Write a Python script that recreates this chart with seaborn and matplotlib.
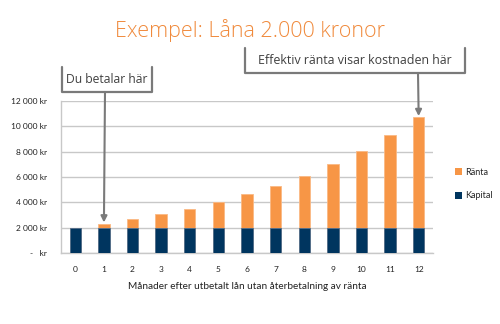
import matplotlib
matplotlib.use("Agg")
import matplotlib.pyplot as plt
import seaborn as sns
import pandas as pd
from matplotlib.lines import Line2D
from matplotlib.patches import Patch

months = list(range(13))
kapital = [2000] * 13
ranta = [0, 300, 650, 1040, 1500, 2020, 2630, 3320, 4100, 5040, 6090, 7300, 8700]
y_ticks = [0, 2000, 4000, 6000, 8000, 10000, 12000]
y_labels = ["-   kr", "2 000 kr", "4 000 kr", "6 000 kr", "8 000 kr", "10 000 kr", "12 000 kr"]
title = "Exempel: Låna 2.000 kronor"
xlabel = "Månader efter utbetalt lån utan återbetalning av ränta"
note1 = "Du betalar här"
note2 = "Effektiv ränta visar kostnaden här"

ORANGE = "#F79646"
NAVY = "#00355F"
GRID = "#C8C8C8"
TXT = "#404040"

df = pd.DataFrame({"month": months, "kapital": kapital, "ranta": ranta})
df["total"] = df["kapital"] + df["ranta"]

sns.set_style("white")
plt.rcParams["font.family"] = ["Lato", "DejaVu Sans"]

W, H = 500, 324
fig = plt.figure(figsize=(5, 3.24), dpi=100)
ax = fig.add_axes([61 / W, 1 - 253 / H, (433 - 61) / W, (253 - 101) / H])

sns.barplot(data=df, x="month", y="total", color=ORANGE, width=0.4, ax=ax,
            saturation=1, edgecolor="#FAB984", linewidth=0.6, zorder=3)
sns.barplot(data=df, x="month", y="kapital", color=NAVY, width=0.4, ax=ax,
            saturation=1, edgecolor="#4F6F8F", linewidth=0.6, zorder=4)

ax.set_xlim(-0.5, 12.5)
ax.set_ylim(0, 12000)
ax.set_yticks(y_ticks)
ax.set_yticklabels(y_labels, fontsize=6.0, color="#222222")
ax.set_xticks(months)
ax.set_xticklabels([str(m) for m in months], fontsize=6.0, color="#222222")
ax.set_xticks([m + 0.5 for m in range(-1, 13)], minor=True)
ax.tick_params(axis="x", which="major", length=0, pad=9)
ax.tick_params(axis="x", which="minor", length=3, color=GRID, width=1, direction="out")
ax.tick_params(axis="y", length=4, color=GRID, width=1, direction="out", pad=6)
ax.yaxis.grid(True, color=GRID, linewidth=1, zorder=0)
ax.set_axisbelow(True)
for s in ["top", "right"]:
    ax.spines[s].set_visible(False)
for s in ["left", "bottom"]:
    ax.spines[s].set_color(GRID)
    ax.spines[s].set_linewidth(1)
ax.set_ylabel("")
ax.set_xlabel(xlabel, fontsize=7.2, color="#222222", labelpad=7)

def fx(px):
    return px / W

def fy(py):
    return 1 - py / H

fig.text(fx(250), fy(31), title, ha="center", va="center", fontsize=15.5,
         color="#F08A3C", family=["Open Sans", "DejaVu Sans"], fontweight="light")

BOX = "#7A7A7A"
# box 1
fig.add_artist(Line2D([fx(62), fx(62), fx(152), fx(152)],
                      [fy(67), fy(92), fy(92), fy(67)], color=BOX, lw=1.6,
                      transform=fig.transFigure))
fig.text(fx(107), fy(79.5), note1, ha="center", va="center", fontsize=8.7,
         color=TXT, family=["Open Sans", "DejaVu Sans"])
# box 2
fig.add_artist(Line2D([fx(245), fx(245), fx(465), fx(465)],
                      [fy(48), fy(73), fy(73), fy(48)], color=BOX, lw=1.6,
                      transform=fig.transFigure))
fig.text(fx(355), fy(61), note2, ha="center", va="center", fontsize=8.9,
         color=TXT, family=["Open Sans", "DejaVu Sans"])

arrow = dict(arrowstyle="-|>", color=BOX, lw=1.5, shrinkA=0, shrinkB=1,
             mutation_scale=9)
ax.annotate("", xy=(1, df["total"][1]), xycoords="data",
            xytext=(fx(105), fy(92)), textcoords="figure fraction", arrowprops=arrow)
ax.annotate("", xy=(12, df["total"][12]), xycoords="data",
            xytext=(fx(418), fy(73)), textcoords="figure fraction", arrowprops=arrow)

handles = [Patch(facecolor=ORANGE, edgecolor="none"), Patch(facecolor=NAVY, edgecolor="none")]
fig.legend(handles, ["Ränta", "Kapital"], loc="center left",
           bbox_to_anchor=(fx(447), fy(184)), frameon=False, fontsize=6.5,
           handlelength=0.8, handleheight=0.8, handletextpad=0.3, labelspacing=1.6)

fig.savefig("out.png", dpi=100)
